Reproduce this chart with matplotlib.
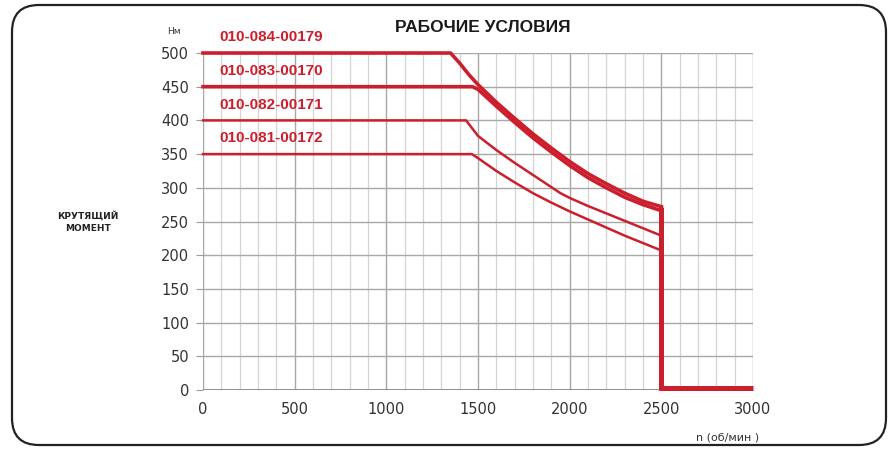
import matplotlib
matplotlib.use("Agg")
import matplotlib.pyplot as plt
from matplotlib.patches import FancyBboxPatch

# ---- data ----
title = "РАБОЧИЕ УСЛОВИЯ"
y_label = "КРУТЯЩИЙ\nМОМЕНТ"
y_unit = "Нм"
x_label = "n (об/мин )"
x_ticks = [0, 500, 1000, 1500, 2000, 2500, 3000]
y_ticks = [0, 50, 100, 150, 200, 250, 300, 350, 400, 450, 500]

models = ["010-084-00179", "010-083-00170", "010-082-00171", "010-081-00172"]
rpm_084 = [0, 1350, 1400, 1450, 1500, 1600, 1700, 1800, 1900, 2000, 2100, 2200, 2300, 2400, 2500]
nm_084 = [500, 500, 485, 468, 453, 427, 403, 380, 359, 339, 321, 306, 292, 280, 272]
rpm_083 = [0, 1470, 1500, 1600, 1700, 1800, 1900, 2000, 2100, 2200, 2300, 2400, 2500]
nm_083 = [450, 450, 446, 421, 397, 374, 353, 333, 315, 300, 286, 275, 266]
rpm_082 = [0, 1435, 1500, 1600, 1700, 1800, 1900, 1950, 2000, 2100, 2200, 2300, 2400, 2500]
nm_082 = [400, 400, 377, 356, 337, 319, 301, 292, 285, 273, 262, 251, 240, 229]
rpm_081 = [0, 1467, 1500, 1600, 1700, 1800, 1900, 2000, 2100, 2200, 2300, 2400, 2500]
nm_081 = [350, 350, 344, 325, 308, 292, 278, 265, 253, 241, 229, 218, 207]
cutoff_rpm = [2500, 2500, 3000]
cutoff_nm = [272, 3, 3]

red = '#cc1f2d'

fig = plt.figure(figsize=(8.96, 4.49), dpi=100)
ax = fig.add_axes([203/896, 1-390/449, 550/896, 337/449])

ax.set_xlim(0, 3000)
ax.set_ylim(0, 500)

# grid
for x in range(0, 3001, 100):
    if x % 500 == 0:
        ax.axvline(x, color='#a8a8a8', lw=1.0, zorder=1)
    else:
        ax.axvline(x, color='#d4d4d4', lw=0.9, zorder=1)
for y in y_ticks:
    ax.axhline(y, color='#a8a8a8', lw=1.0, zorder=1)
ax.axhline(0, color='#808080', lw=1.2, zorder=1)

for s in ax.spines.values():
    s.set_visible(False)

kw = dict(color=red, clip_on=False, solid_joinstyle='round')
ax.plot(rpm_081, nm_081, lw=1.8, zorder=3, **kw)
ax.plot(rpm_082, nm_082, lw=1.8, zorder=3, **kw)
ax.plot(rpm_083, nm_083, lw=2.6, zorder=4, **kw)
ax.plot(rpm_084, nm_084, lw=2.6, zorder=4, **kw)
ax.plot(cutoff_rpm, cutoff_nm, lw=3.6, zorder=5, color=red, clip_on=False,
        solid_capstyle='butt', solid_joinstyle='miter')

# labels above lines
label_y = [nm_084[0], nm_083[0], nm_082[0], nm_081[0]]
for name, yv in zip(models, label_y):
    ax.text(90, yv + 13, name, color=red, fontsize=11, fontweight='bold',
            family=['Liberation Sans', 'DejaVu Sans'], ha='left', va='bottom', zorder=6)

ax.set_xticks(x_ticks)
ax.set_yticks(y_ticks)
ax.tick_params(axis='x', length=0, pad=9, labelsize=10.5, labelcolor='#333333')
ax.tick_params(axis='y', length=5, width=0.8, color='#999999', pad=5, labelsize=10.5, labelcolor='#333333')

fig.text(483/896, 1-27/449, title, ha='center', va='center', fontsize=12.5,
         fontweight='bold', family=['Liberation Sans', 'DejaVu Sans'], color='#1a1a1a')
fig.text(174/896, 1-31/449, y_unit, ha='center', va='center', fontsize=6.5, color='#333333')
fig.text(88/896, 1-222/449, y_label, ha='center', va='center', fontsize=6.5,
         fontweight='bold', color='#222222', linespacing=1.5)
fig.text(728/896, 1-437/449, x_label, ha='center', va='center', fontsize=8, color='#333333')

border = FancyBboxPatch((12/896, 4/449), 874/896, 440/449,
                        boxstyle="round,pad=0,rounding_size=0.03",
                        transform=fig.transFigure, fill=False, ec='#222222', lw=1.6,
                        mutation_aspect=896/449)
fig.patches.append(border)

fig.savefig("out.png", dpi=100)
